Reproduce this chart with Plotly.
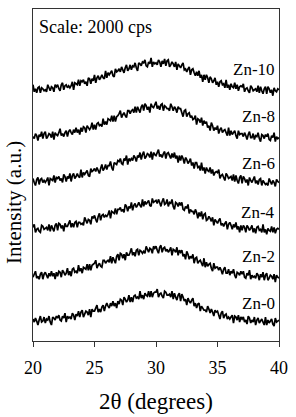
import numpy as np
import plotly.graph_objects as go

# 2-theta scan grid (degrees)
theta_start = 20.0
theta_step = 0.1
n_points = 201
two_theta = np.round(theta_start + theta_step * np.arange(n_points), 2)

# Intensities (a.u.) (one row = 1 degree)
zn0 = [13, 10, 14, 11, 7, 12, 16, 10, 11, 15,
       9, 13, 12, 16, 10, 7, 15, 14, 12, 16,
       14, 17, 12, 11, 16, 14, 19, 10, 16, 14,
       15, 13, 19, 17, 12, 18, 16, 21, 15, 20,
       22, 15, 18, 21, 20, 17, 23, 15, 23, 21,
       21, 24, 27, 20, 23, 20, 25, 27, 21, 26,
       29, 26, 24, 29, 26, 31, 26, 29, 24, 31,
       28, 33, 32, 27, 35, 33, 30, 32, 37, 30,
       35, 30, 36, 37, 34, 35, 33, 41, 34, 37,
       33, 39, 37, 36, 41, 35, 41, 35, 39, 40,
       40, 43, 35, 38, 39, 36, 34, 41, 40, 37,
       37, 38, 35, 41, 33, 39, 35, 32, 37, 39,
       31, 38, 35, 31, 33, 27, 34, 31, 29, 32,
       34, 26, 29, 24, 28, 29, 21, 26, 24, 22,
       22, 20, 26, 23, 19, 23, 20, 16, 22, 20,
       21, 17, 13, 19, 21, 14, 17, 18, 13, 15,
       13, 15, 17, 9, 16, 15, 12, 17, 10, 15,
       13, 15, 10, 12, 8, 16, 14, 9, 12, 10,
       15, 7, 12, 14, 9, 11, 13, 10, 7, 15,
       7, 12, 9, 11, 13, 8, 6, 14, 10, 11,
       12]
zn2 = [10, 13, 16, 9, 11, 8, 13, 15, 8, 13,
       15, 12, 9, 14, 11, 16, 11, 14, 8, 15,
       11, 16, 15, 10, 17, 15, 12, 14, 19, 12,
       16, 11, 18, 19, 15, 16, 14, 22, 16, 19,
       14, 20, 19, 18, 23, 17, 23, 17, 22, 23,
       24, 27, 19, 22, 24, 21, 20, 27, 27, 24,
       26, 27, 25, 31, 24, 30, 27, 24, 31, 33,
       27, 34, 33, 29, 33, 27, 35, 32, 32, 35,
       39, 32, 35, 31, 37, 38, 32, 37, 36, 34,
       36, 34, 41, 38, 35, 39, 38, 34, 41, 39,
       41, 37, 34, 40, 42, 35, 39, 40, 36, 38,
       35, 37, 40, 32, 38, 37, 35, 40, 32, 37,
       35, 37, 31, 33, 28, 36, 33, 28, 31, 29,
       33, 24, 29, 30, 24, 26, 27, 24, 21, 29,
       20, 25, 21, 23, 24, 19, 16, 24, 19, 20,
       20, 17, 20, 17, 13, 18, 20, 14, 14, 18,
       12, 16, 14, 18, 12, 9, 15, 14, 12, 16,
       13, 16, 10, 9, 14, 12, 17, 8, 12, 10,
       11, 9, 14, 12, 7, 13, 10, 15, 7, 12,
       14, 7, 9, 12, 11, 8, 13, 5, 12, 10,
       9]
zn4 = [13, 16, 8, 11, 12, 9, 8, 15, 14, 11,
       12, 13, 10, 16, 9, 15, 12, 9, 15, 17,
       10, 17, 16, 12, 15, 9, 17, 14, 14, 17,
       20, 13, 17, 13, 18, 19, 13, 18, 18, 16,
       17, 15, 23, 20, 17, 21, 20, 16, 24, 22,
       25, 21, 18, 24, 27, 20, 25, 26, 23, 25,
       24, 26, 30, 22, 29, 28, 27, 32, 26, 31,
       31, 33, 29, 31, 28, 36, 34, 29, 34, 32,
       38, 30, 35, 37, 33, 35, 38, 35, 33, 41,
       34, 39, 36, 38, 40, 35, 34, 42, 38, 39,
       40, 37, 41, 38, 34, 39, 42, 36, 37, 41,
       34, 38, 37, 41, 34, 31, 38, 37, 34, 38,
       35, 38, 31, 30, 34, 32, 36, 27, 31, 29,
       29, 26, 31, 28, 22, 28, 24, 29, 21, 26,
       27, 20, 21, 24, 22, 19, 23, 15, 21, 19,
       17, 20, 22, 15, 17, 14, 17, 19, 11, 16,
       18, 15, 11, 16, 13, 18, 11, 14, 8, 15,
       10, 15, 13, 8, 15, 13, 10, 12, 15, 8,
       12, 7, 13, 14, 10, 11, 8, 16, 8, 11,
       6, 12, 10, 9, 14, 8, 13, 7, 11, 12,
       11]
zn6 = [14, 10, 7, 13, 15, 8, 13, 14, 10, 12,
       10, 12, 15, 7, 14, 13, 12, 17, 10, 15,
       14, 16, 12, 14, 10, 18, 16, 11, 16, 14,
       19, 11, 17, 19, 14, 16, 19, 16, 15, 23,
       15, 20, 18, 20, 22, 17, 16, 24, 21, 22,
       24, 21, 25, 22, 19, 24, 28, 22, 24, 28,
       23, 27, 27, 31, 25, 22, 30, 29, 28, 32,
       31, 34, 29, 28, 34, 32, 37, 28, 34, 32,
       34, 32, 37, 35, 31, 37, 35, 40, 33, 38,
       41, 34, 36, 39, 38, 35, 41, 33, 40, 38,
       37, 40, 43, 36, 38, 35, 39, 41, 34, 39,
       40, 37, 34, 39, 35, 40, 34, 37, 30, 37,
       32, 37, 34, 29, 35, 33, 29, 31, 34, 27,
       30, 24, 30, 30, 25, 26, 22, 30, 22, 25,
       19, 25, 22, 21, 25, 19, 23, 17, 20, 21,
       20, 23, 14, 17, 18, 15, 12, 19, 17, 14,
       15, 16, 12, 18, 11, 17, 12, 9, 15, 17,
       9, 16, 14, 10, 13, 7, 15, 12, 10, 13,
       16, 9, 12, 8, 13, 14, 7, 12, 10, 8,
       9, 7, 14, 11, 8, 12, 10, 6, 13, 11,
       10]
zn8 = [11, 9, 14, 12, 7, 13, 11, 16, 9, 14,
       16, 9, 11, 14, 13, 10, 16, 8, 15, 13,
       12, 15, 19, 12, 14, 11, 15, 17, 11, 16,
       18, 15, 13, 18, 15, 20, 15, 18, 13, 20,
       16, 21, 20, 15, 22, 20, 18, 20, 25, 18,
       23, 18, 24, 25, 22, 23, 21, 29, 23, 26,
       23, 29, 28, 27, 32, 26, 32, 26, 31, 32,
       34, 37, 30, 33, 35, 32, 30, 37, 37, 34,
       37, 38, 35, 41, 35, 41, 38, 35, 41, 43,
       37, 44, 42, 38, 41, 35, 44, 41, 40, 43,
       46, 39, 42, 38, 43, 44, 37, 42, 41, 39,
       39, 37, 44, 41, 37, 41, 39, 35, 41, 39,
       39, 35, 31, 37, 38, 31, 34, 35, 30, 32,
       28, 29, 32, 23, 29, 28, 25, 30, 22, 27,
       24, 26, 20, 22, 17, 25, 22, 17, 20, 18,
       22, 14, 18, 20, 15, 17, 18, 15, 12, 20,
       12, 17, 13, 15, 17, 12, 9, 17, 13, 14,
       14, 11, 15, 12, 8, 13, 16, 10, 10, 14,
       8, 12, 11, 15, 9, 6, 13, 12, 9, 13,
       11, 14, 8, 7, 12, 10, 15, 6, 11, 9,
       10]
zn10 = [16, 9, 12, 8, 13, 14, 8, 13, 12, 10,
        11, 9, 16, 13, 10, 14, 13, 9, 16, 14,
        16, 12, 10, 16, 18, 11, 15, 16, 13, 15,
        13, 15, 19, 11, 18, 17, 16, 21, 15, 20,
        19, 21, 17, 19, 15, 23, 22, 17, 22, 20,
        26, 18, 23, 25, 21, 23, 26, 23, 22, 30,
        23, 28, 26, 28, 30, 25, 24, 32, 29, 30,
        32, 29, 34, 31, 28, 33, 36, 30, 32, 36,
        31, 35, 34, 38, 33, 30, 38, 37, 35, 39,
        38, 41, 35, 34, 39, 37, 43, 34, 39, 37,
        38, 36, 41, 39, 34, 40, 37, 42, 35, 40,
        41, 34, 36, 39, 37, 34, 39, 31, 37, 35,
        33, 36, 38, 31, 32, 29, 32, 34, 26, 31,
        32, 28, 25, 29, 25, 30, 23, 26, 19, 26,
        21, 26, 23, 18, 24, 22, 18, 20, 23, 16,
        19, 14, 19, 20, 16, 17, 13, 21, 13, 16,
        11, 17, 14, 13, 18, 12, 16, 10, 14, 15,
        14, 17, 9, 12, 13, 10, 8, 15, 13, 10,
        11, 12, 9, 15, 8, 14, 10, 7, 12, 14,
        7, 14, 12, 8, 11, 5, 13, 10, 9, 12,
        11]

sample_names = ["Zn-0", "Zn-2", "Zn-4", "Zn-6", "Zn-8", "Zn-10"]
series = [zn0, zn2, zn4, zn6, zn8, zn10]
stack_offsets = [9, 54, 101, 149, 194, 241]
label_heights = [38, 85, 129, 178, 225, 272]
x_ticks = [20, 25, 30, 35, 40]

FONT = "Liberation Serif"

fig = go.Figure()
for name, vals, off in zip(sample_names, series, stack_offsets):
    fig.add_trace(go.Scatter(
        x=two_theta, y=np.array(vals) + off, mode="lines", name=name,
        line=dict(color="black", width=1.7, simplify=False),
        showlegend=False, hoverinfo="skip"))

annotations = []
for name, h in zip(sample_names, label_heights):
    annotations.append(dict(x=39.8, y=h, xref="x", yref="y", text=name,
                            showarrow=False, xanchor="right", yanchor="middle",
                            font=dict(family=FONT, size=17, color="black")))
annotations.append(dict(x=20.35, y=315, xref="x", yref="y",
                        text="Scale: 2000 cps", showarrow=False,
                        xanchor="left", yanchor="middle",
                        font=dict(family=FONT, size=18, color="black")))
annotations.append(dict(x=0.5, y=-0.183, xref="paper", yref="paper",
                        text="2θ (degrees)", showarrow=False,
                        xanchor="center", yanchor="middle",
                        font=dict(family=FONT, size=23, color="black")))
annotations.append(dict(x=-0.08, y=0.417, xref="paper", yref="paper",
                        text="Intensity (a.u.)", showarrow=False, textangle=-90,
                        xanchor="center", yanchor="middle",
                        font=dict(family=FONT, size=21, color="black")))

fig.update_layout(
    width=296, height=417,
    margin=dict(l=33, r=14, t=8, b=76, pad=0),
    paper_bgcolor="white", plot_bgcolor="white",
    font=dict(family=FONT, color="black"),
    annotations=annotations,
    xaxis=dict(range=[20, 40], tickvals=x_ticks, ticks="outside", ticklen=5,
               tickwidth=1, tickcolor="#333", showline=True, linecolor="#333",
               linewidth=1, mirror=True, showgrid=False, zeroline=False,
               ticklabelstandoff=5,
               tickfont=dict(family=FONT, size=18, color="black")),
    yaxis=dict(range=[0, 333], showticklabels=False, ticks="", showline=True,
               linecolor="#333", linewidth=1, mirror=True, showgrid=False,
               zeroline=False),
)

fig.write_html("out.html")
